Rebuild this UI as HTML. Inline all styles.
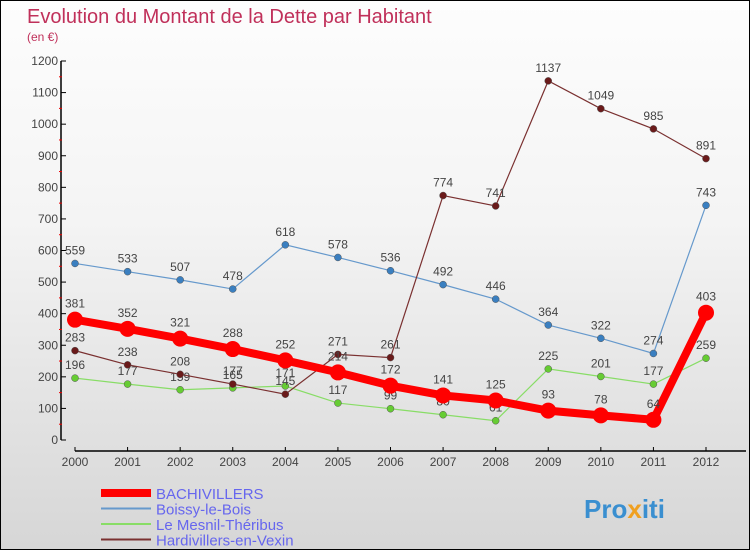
<!DOCTYPE html>
<html><head><meta charset="utf-8"><style>
html,body{margin:0;padding:0}
body{width:750px;height:550px;overflow:hidden;font-family:"Liberation Sans","DejaVu Sans",sans-serif}
#wrap{position:relative;width:748px;height:548px;border:1px solid #000;background:linear-gradient(#fdfdfd,#f4f4f4 40%,#d6d6d6)}
</style></head><body>
<div id="wrap">
<svg id="chart" width="748" height="548" xmlns="http://www.w3.org/2000/svg">
<text x="26" y="22" font-size="20" fill="#c0305a">Evolution du Montant de la Dette par Habitant</text>
<text x="26" y="40" font-size="12" fill="#c0305a">(en €)</text>
<g id="axes"></g><g id="series"></g><g id="legend"></g>
<text x="583" y="517" font-size="26" font-weight="bold" fill="#3a8fd0">Pro<tspan fill="#f0a020">x</tspan>iti</text>
</svg>
</div>
<script>
const years=[2000,2001,2002,2003,2004,2005,2006,2007,2008,2009,2010,2011,2012];
const yTicks=[0,100,200,300,400,500,600,700,800,900,1000,1100,1200];
const seriesNames=["BACHIVILLERS","Boissy-le-Bois","Le Mesnil-Théribus","Hardivillers-en-Vexin"];
const bachivillers=[381,352,321,288,252,214,172,141,125,93,78,64,403];
const boissy=[559,533,507,478,618,578,536,492,446,364,322,274,743];
const mesnil=[196,177,159,165,171,117,99,80,61,225,201,177,259];
const hardivillers=[283,238,208,177,145,271,261,774,741,1137,1049,985,891];
const NS="http://www.w3.org/2000/svg";
function X(i){return 74+i*(705-74)/(years.length-1);}
function Y(v){return 439-v*(439-60)/1200;}
function el(t,a,p){const e=document.createElementNS(NS,t);for(const k in a)e.setAttribute(k,a[k]);p.appendChild(e);return e;}
const ax=document.getElementById('axes');
const yl=el('line',{x1:60,y1:Y(1200),x2:60,y2:Y(0),stroke:'#000','stroke-width':1.5},ax);


yTicks.forEach((v,i)=>{
 el('line',{x1:60,y1:Y(v),x2:65,y2:Y(v),stroke:'#000'},ax);
 if(i<yTicks.length-1)el('line',{x1:58,y1:Y(v+50),x2:61,y2:Y(v+50),stroke:'#e00'},ax);
 const t=el('text',{x:57,y:Y(v)+4,'font-size':12,fill:'#444','text-anchor':'end'},ax);t.textContent=v;
 
 
});
const xl=el('line',{x1:X(0),y1:450,x2:X(12)+40,y2:450,stroke:'#000','stroke-width':1.5},ax);


years.forEach((y,i)=>{
 el('line',{x1:X(i),y1:446,x2:X(i),y2:450,stroke:'#000'},ax);
 const t=el('text',{x:X(i),y:465,'font-size':12,fill:'#444','text-anchor':'middle'},ax);t.textContent=y;
 
 
});
const sg=document.getElementById('series');
const defs=[[boissy,'#6699cc','#3a7fc0',1.2,3.5,'boissy-le-bois'],[mesnil,'#88dd66','#66cc33',1.2,3.5,'le-mesnil-theribus'],[hardivillers,'#7a3030','#6a1a1a',1.2,3.5,'hardivillers-en-vexin'],[bachivillers,'#ff0000','#ff0000',8,8,'bachivillers']];
defs.forEach(([d,lc,dc,w,r,n])=>{
 const g=el('g',{},sg);
 
 
 const pl=el('polyline',{points:d.map((v,i)=>X(i)+','+Y(v)).join(' '),fill:'none',stroke:lc,'stroke-width':w},g);
 
 
 d.forEach((v,i)=>{
  const c=el('circle',{cx:X(i),cy:Y(v),r:r,fill:dc,stroke:w>2?'#e00':'#555','stroke-width':w>2?0:0.5},g);
  
  
  const t=el('text',{x:X(i),y:Y(v)-(w>2?12:9),'font-size':12,fill:'#444','text-anchor':'middle'},g);t.textContent=v;
  
  
 });
});
const lg=document.getElementById('legend');
const ld=[['#ff0000',8],['#6699cc',2],['#88dd66',2],['#7a3030',2]];
seriesNames.forEach((n,i)=>{
 const y=492+i*15.5;
 const g=el('g',{},lg);
 
 
 el('line',{x1:100,y1:y,x2:150,y2:y,stroke:ld[i][0],'stroke-width':ld[i][1]},g);
 const t=el('text',{x:155,y:y+6,'font-size':15,fill:'#6666ee'},g);t.textContent=n;
});
</script>
</body></html>
